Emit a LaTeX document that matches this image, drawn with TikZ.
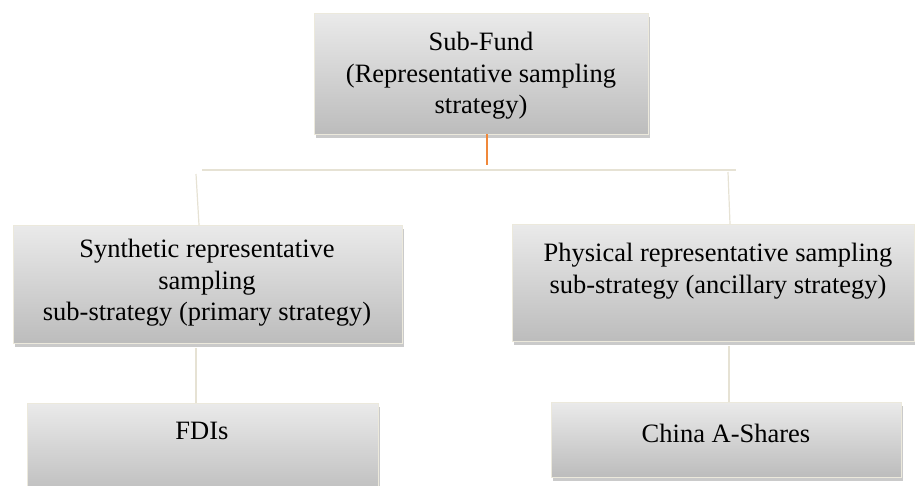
\documentclass[tikz,border=0pt]{standalone}
\usepackage{fontspec}
\setmainfont{Liberation Serif}
\usetikzlibrary{shadows}
\definecolor{boxtop}{HTML}{EAEAEA}
\definecolor{boxbot}{HTML}{BCBCBC}
\definecolor{boxedge}{HTML}{ECE9DC}
\definecolor{linec}{HTML}{E6E2D4}
\definecolor{orangec}{HTML}{F0883A}
\tikzset{
  box/.style={draw=boxedge, line width=1pt, top color=boxtop, bottom color=boxbot,
    inner sep=0pt, anchor=north west,
    drop shadow={shadow xshift=1pt, shadow yshift=-3pt, opacity=0.35, fill=black!60}},
  txt/.style={align=center, font=\fontsize{26.5}{31.5}\selectfont, inner sep=0pt},
  conn/.style={draw=linec, line width=1.2pt},
  mainconn/.style={draw=orangec, line width=1.5pt}
}
\begin{document}
\begin{tikzpicture}[x=1pt,y=-1pt]
\useasboundingbox (0,0) rectangle (915,485);
\clip (0,0) rectangle (915,485);
\node[box, minimum width=334pt, minimum height=121pt] (top) at (314,13) {};
\node[box, minimum width=389pt, minimum height=118pt] (ml) at (13,225) {};
\node[box, minimum width=402pt, minimum height=117pt] (mr) at (512,224) {};
\node[box, minimum width=351pt, minimum height=95pt] (bl) at (27,403) {};
\node[box, minimum width=350pt, minimum height=75pt] (br) at (551,402) {};

\node[txt] (ttop) at (481,76) {Sub-Fund\\(Representative sampling\\strategy)};
\node[txt] (tml) at (207,283) {Synthetic representative\\sampling\\sub-strategy (primary strategy)};
\node[txt] (tmr) at (718,271) {Physical representative sampling\\sub-strategy (ancillary strategy)};
\node[txt] (tbl) at (202,431) {FDIs};
\node[txt] (tbr) at (726,433) {China A-Shares};

\coordinate (hl) at (202,170);
\coordinate (hr) at (736,170);
\coordinate (hm) at (487,165);
\coordinate (lt) at (196,174);
\coordinate (rt) at (728,172);
\coordinate (lb) at (196,348);
\coordinate (rb) at (729,346);

\draw[mainconn] (487,134) -- (hm);
\draw[conn] (hl) -- (hr);
\draw[conn] (lt) -- (ml.north west -| 199,0);
\draw[conn] (rt) -- (mr.north west -| 730,0);
\draw[conn] (lb) -- (bl.north west -| 196,0);
\draw[conn] (rb) -- (br.north west -| 729,0);
\end{tikzpicture}
\end{document}
